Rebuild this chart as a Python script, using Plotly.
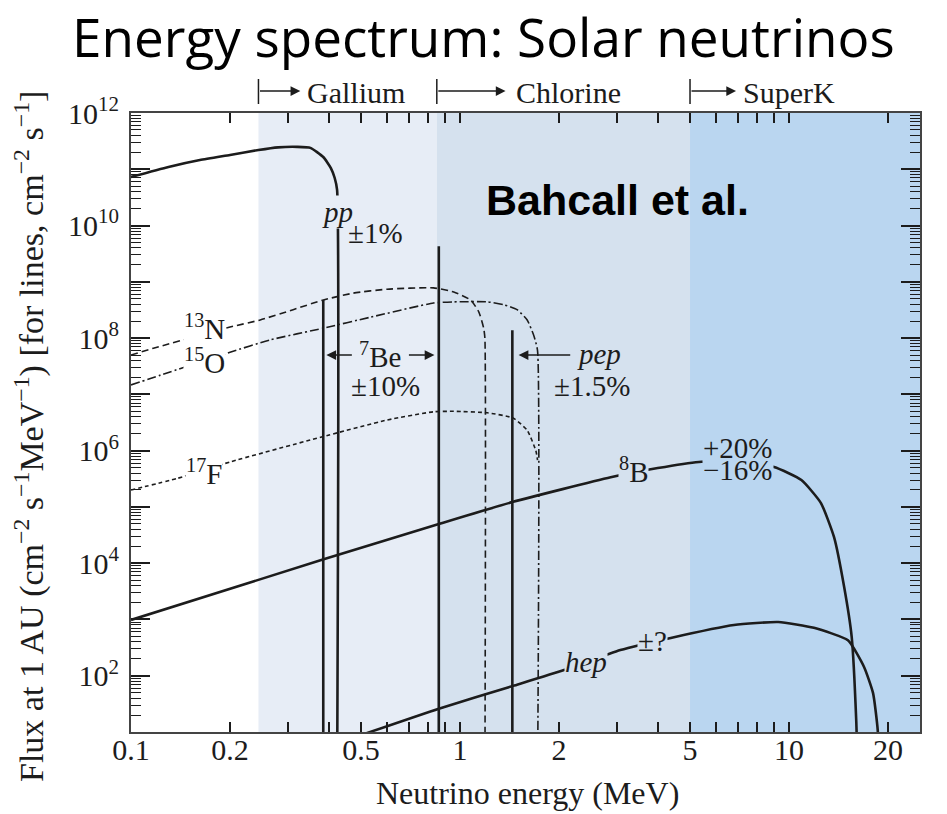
import math
import plotly.graph_objects as go

# Solar neutrino spectra: energy (MeV) vs flux at 1 AU (cm^-2 s^-1 MeV^-1)
pp_E = [0.1, 0.13, 0.162, 0.2, 0.244, 0.28, 0.32, 0.351, 0.384, 0.405, 0.416, 0.423]
pp_F = [7.3e10, 1.1e11, 1.46e11, 1.8e11, 2.2e11, 2.45e11, 2.5e11, 2.4e11, 1.65e11, 1.05e11, 7.0e10, 4.3e10]

n13_E = [0.1, 0.117, 0.2, 0.247, 0.311, 0.384, 0.474, 0.6, 0.83, 0.957, 1.077, 1.141, 1.18, 1.19]
n13_F = [5.0e7, 6.6e7, 1.57e8, 2.1e8, 3.2e8, 4.75e8, 6.3e8, 7.4e8, 7.8e8, 6.6e8, 4.75e8, 2.9e8, 1.5e8, 1.0e8]

o15_E = [0.1, 0.123, 0.2, 0.265, 0.384, 0.534, 0.83, 0.957, 1.21, 1.36, 1.49, 1.6, 1.68, 1.72]
o15_F = [1.47e7, 2.2e7, 5.6e7, 9.3e7, 1.5e8, 2.35e8, 4.2e8, 4.4e8, 4.4e8, 3.9e8, 3.2e8, 2.1e8, 1.06e8, 6.0e7]

f17_E = [0.1, 0.138, 0.2, 0.351, 0.384, 0.6, 0.83, 0.957, 1.21, 1.45, 1.6, 1.7, 1.72]
f17_F = [2.0e5, 3.2e5, 6.3e5, 1.55e6, 1.78e6, 3.5e6, 4.9e6, 5.0e6, 4.7e6, 3.8e6, 2.3e6, 1.0e6, 6.8e5]

b8_E = [0.1, 0.385, 0.862, 1.45, 2.87, 3.99, 5.32, 6.6, 9.0, 10.9, 12.5, 13.7, 14.7, 15.5, 16.0, 16.2]
b8_F = [9.8e2, 1.17e4, 4.97e4, 1.23e5, 3.36e5, 4.9e5, 6.3e5, 6.5e5, 5.1e5, 3.0e5, 1.17e5, 2.9e4, 3.8e3, 4.9e2, 16, 1]

hep_E = [0.5, 0.862, 1.45, 2.07, 3.07, 4.37, 6.8, 9.27, 11.9, 15.1, 16.9, 18.0, 18.6, 18.8]
hep_F = [8.8, 26, 66, 126, 286, 470, 795, 900, 710, 425, 143, 49, 10.7, 1]

# Monoenergetic lines: 7Be (two lines) and pep, flux in cm^-2 s^-1
line_E = [0.384, 0.862, 1.442]
line_F = [4.75e8, 4.3e9, 1.38e8]

# Detector thresholds (MeV)
det_names = ["Gallium", "Chlorine", "SuperK"]
det_thresh = [0.244, 0.85, 5.0]

# Axis extents and ticks
E_MIN, E_MAX = 0.1, 25.0
F_MIN_EXP, F_MAX_EXP = 1, 12
x_tick_vals = [0.1, 0.2, 0.5, 1, 2, 5, 10, 20]
x_tick_text = ["0.1", "0.2", "0.5", "1", "2", "5", "10", "20"]
x_long_ticks = [1, 10]

INK = "#1c1c1c"
SERIF = "Liberation Serif"
region_colors = ["#E7EDF6", "#D5E1EE", "#BAD6F0"]
FLOOR = 10 ** (F_MIN_EXP - 1)

fig = go.Figure()


def curve(E, F, dash="solid", width=2.6):
    fig.add_trace(go.Scatter(
        x=E, y=F, mode="lines", hoverinfo="skip", showlegend=False,
        line=dict(color=INK, width=width, dash=dash, shape="spline", smoothing=0.5)))


# continuum spectra; pp, 13N and 15O drop vertically at their endpoints
curve(pp_E + [pp_E[-1]], pp_F + [FLOOR])
curve(b8_E, b8_F)
curve(hep_E, hep_F)
curve(n13_E + [n13_E[-1]], n13_F + [FLOOR], dash="7px,4px", width=1.6)
curve(o15_E + [o15_E[-1]], o15_F + [FLOOR], dash="9px,3px,2px,3px", width=1.6)
curve(f17_E, f17_F, dash="4px,3px", width=1.6)

# line sources as vertical bars from the axis floor
lx, ly = [], []
for e, f in zip(line_E, line_F):
    lx += [e, e, None]
    ly += [f, FLOOR, None]
fig.add_trace(go.Scatter(x=lx, y=ly, mode="lines", hoverinfo="skip", showlegend=False,
                         line=dict(color=INK, width=2.6)))

# shaded detector sensitivity bands and threshold markers above the frame
shapes = []
edges = det_thresh + [E_MAX]
for i, c in enumerate(region_colors):
    shapes.append(dict(type="rect", xref="x", yref="paper", x0=edges[i], x1=edges[i + 1],
                       y0=0, y1=1, fillcolor=c, line=dict(width=0), layer="below"))
for t in det_thresh:
    shapes.append(dict(type="line", xref="x", yref="paper", x0=t, x1=t, y0=1.0145, y1=1.0549,
                       line=dict(color=INK, width=1.5)))

annotations = []
det_arrow_head = [0.327, 1.375, 6.9]
det_text_left = [0.339, 1.455, 7.14]
for name, t, head, tl in zip(det_names, det_thresh, det_arrow_head, det_text_left):
    annotations.append(dict(xref="x", yref="paper", x=math.log10(head), y=1.0355,
                            axref="x", ax=math.log10(t), ayref="pixel", ay=0, text="",
                            showarrow=True, arrowhead=2, arrowsize=1.3, arrowwidth=1.5,
                            arrowcolor=INK, standoff=0, startstandoff=0))
    annotations.append(dict(xref="x", yref="paper", x=math.log10(tl), y=1.0339, text=name,
                            showarrow=False, xanchor="left", yanchor="middle",
                            font=dict(family=SERIF, size=30, color=INK)))


def label(text, E, F, bg=None, size=29):
    d = dict(xref="x", yref="y", x=math.log10(E), y=math.log10(F), text=text,
             showarrow=False, xanchor="center", yanchor="middle",
             font=dict(family=SERIF, size=size, color=INK), borderpad=0)
    if bg:
        d["bgcolor"] = bg
    annotations.append(d)


def arrow(E_head, E_tail, F):
    annotations.append(dict(xref="x", yref="y", x=math.log10(E_head), y=math.log10(F),
                            axref="x", ayref="y", ax=math.log10(E_tail), ay=math.log10(F),
                            text="", showarrow=True, arrowhead=2, arrowsize=1.3,
                            arrowwidth=1.5, arrowcolor=INK, standoff=0))


label("<i>pp</i>", 0.425, 1.74e10, bg=region_colors[0])
label("±1%", 0.553, 7.4e9)
label("<sup>13</sup>N", 0.167, 1.57e8, bg="white")
label("<sup>15</sup>O", 0.167, 3.9e7, bg="white")
label("<sup>17</sup>F", 0.167, 4.2e5, bg="white")
label("<sup>7</sup>Be", 0.573, 5.0e7)
label("±10%", 0.593, 1.4e7)
label("<i>pep</i>", 2.64, 5.2e7)
label("±1.5%", 2.51, 1.4e7)
label("<sup>8</sup>B", 3.37, 4.5e5, bg=region_colors[1])
label("−16%", 7.0, 4.5e5, bg=region_colors[2])
label("+20%", 7.0, 1.12e6)
label("<i>hep</i>", 2.41, 175, bg=region_colors[1])
label("±?", 3.85, 414, bg=region_colors[1])
arrow(0.3925, 0.474, 5.0e7)
arrow(0.836, 0.692, 5.0e7)
arrow(1.507, 2.185, 5.0e7)


def paper_text(text, x, y, family, size, color=INK, angle=0):
    annotations.append(dict(xref="paper", yref="paper", x=x, y=y, text=text,
                            showarrow=False, xanchor="center", yanchor="middle",
                            textangle=angle, font=dict(family=family, size=size, color=color)))


paper_text("<b>Bahcall et al.</b>", 0.617, 0.8595, "Liberation Sans", 43, "black")
paper_text("Energy spectrum: Solar neutrinos", 0.4474, 1.1236, "Open Sans", 53, "black")
paper_text("Neutrino energy (MeV)", 0.502, -0.0985, SERIF, 32)
paper_text("Flux at 1 AU (cm<sup>−2</sup> s<sup>−1</sup>MeV<sup>−1</sup>) "
           "[for lines, cm<sup>−2</sup> s<sup>−1</sup>]", -0.128, 0.4766, SERIF, 34, angle=-90)

x_minor = [m * 10 ** k for k in (-1, 0) for m in range(2, 10)
           if m * 10 ** k not in x_tick_vals] + [30]
y_major = [10 ** k for k in range(F_MIN_EXP, F_MAX_EXP + 1)]
y_text = [f"10<sup>{k}</sup>" if k % 2 == 0 else "" for k in range(F_MIN_EXP, F_MAX_EXP + 1)]
y_minor = [m * 10 ** k for k in range(F_MIN_EXP, F_MAX_EXP) for m in range(2, 10)]

x_range = [math.log10(E_MIN), math.log10(E_MAX)]
fig.update_layout(
    width=947, height=814,
    margin=dict(l=131, r=27, t=113, b=82),
    paper_bgcolor="white", plot_bgcolor="white",
    shapes=shapes, annotations=annotations, showlegend=False,
    xaxis=dict(type="log", range=x_range, tickmode="array", tickvals=x_tick_vals,
               ticktext=x_tick_text, ticks="inside", ticklen=10, tickwidth=1.5,
               tickcolor=INK, showline=True, linecolor="#444", linewidth=2,
               mirror="ticks", showgrid=False, zeroline=False, ticklabelstandoff=-10,
               tickfont=dict(family=SERIF, size=30, color=INK),
               minor=dict(tickmode="array", tickvals=x_minor, ticks="inside",
                          ticklen=10, tickwidth=1.5, tickcolor=INK, showgrid=False)),
    xaxis2=dict(type="log", range=x_range, overlaying="x", anchor="y", side="bottom",
                tickmode="array", tickvals=x_long_ticks, ticks="inside", ticklen=20,
                tickwidth=1.5, tickcolor=INK, showticklabels=False, showline=True,
                linecolor="#444", linewidth=2, mirror="ticks", showgrid=False,
                zeroline=False),
    yaxis=dict(type="log", range=[F_MIN_EXP, F_MAX_EXP], tickmode="array",
               tickvals=y_major, ticktext=y_text, ticks="inside", ticklen=19,
               tickwidth=1.5, tickcolor=INK, showline=True, linecolor="#444",
               linewidth=2, mirror="ticks", showgrid=False, zeroline=False,
               ticklabelstandoff=4,
               tickfont=dict(family=SERIF, size=30, color=INK),
               minor=dict(tickmode="array", tickvals=y_minor, ticks="inside",
                          ticklen=10, tickwidth=1.2, tickcolor=INK, showgrid=False)),
)

fig.write_html("out.html")
